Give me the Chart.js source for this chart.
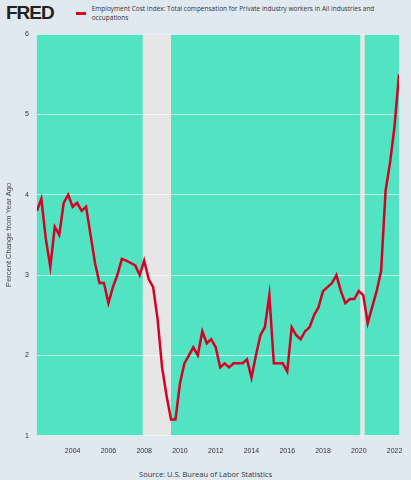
<!DOCTYPE html>
<html><head><meta charset="utf-8">
<script src="https://cdn.jsdelivr.net/npm/chart.js@4"></script>
<style>
body{margin:0;background:#e1e9f0;font-family:"Open Sans",Arial,sans-serif;}
#hdr{position:absolute;left:6px;top:2px;height:22px;display:flex;align-items:center;}
#logo{font-family:"Liberation Sans",Arial,sans-serif;font-weight:bold;font-size:19px;color:#222;letter-spacing:-1px;}
#leg{display:flex;align-items:center;font-size:6.5px;color:#333;margin-left:22px;}
#leg span.sw{display:inline-block;width:10px;height:3px;background:#d50024;margin-right:6px;}
#wrap{position:absolute;left:0;top:22px;width:411px;height:444px;}
#src{position:absolute;bottom:1px;width:411px;text-align:center;font-size:7.5px;color:#333;}
</style></head><body>
<div id="hdr"><span id="logo">FRED</span><div id="leg"><span class="sw"></span>Employment Cost Index: Total compensation for Private industry workers in All industries and occupations</div></div>
<div id="wrap"><canvas id="c"></canvas></div>
<div id="src">Source: U.S. Bureau of Labor Statistics</div>
<script>
const startYear = 2002;
const values = [3.8,3.95,3.45,3.1,3.6,3.5,3.9,4.0,3.85,3.9,3.8,3.85,3.5,3.15,2.9,2.9,2.65,2.85,3.0,3.2,3.18,3.15,3.12,3.0,3.18,2.95,2.85,2.45,1.85,1.5,1.2,1.2,1.65,1.9,2.0,2.1,2.0,2.3,2.15,2.2,2.1,1.85,1.9,1.85,1.9,1.9,1.9,1.95,1.72,2.0,2.25,2.35,2.75,1.9,1.9,1.9,1.8,2.35,2.25,2.2,2.3,2.35,2.5,2.6,2.8,2.85,2.9,3.0,2.8,2.65,2.7,2.7,2.8,2.75,2.4,2.6,2.8,3.05,4.05,4.4,4.85,5.5];
const yTicks = [1,2,3,4,5,6];
const xTickYears = [2004,2006,2008,2010,2012,2014,2016,2018,2020,2022];
const recessions = [[2007.917,2009.5],[2020.083,2020.333]];
const pts = values.map((v,i)=>({x:startYear+i*0.25,y:v}));
const bg = {id:'bg',beforeDraw(ch){const {ctx,chartArea:a,scales:{x}}=ch;ctx.save();ctx.fillStyle='#52e3c2';ctx.fillRect(a.left,a.top,a.right-a.left,a.bottom-a.top);ctx.fillStyle='#e6e6e6';recessions.forEach(r=>{const l=x.getPixelForValue(r[0]),rr=x.getPixelForValue(r[1]);ctx.fillRect(l,a.top,rr-l,a.bottom-a.top);});ctx.restore();}};
new Chart(document.getElementById('c'),{type:'line',
data:{datasets:[{data:pts,borderColor:'#d50024',borderWidth:2.5,pointRadius:0,tension:0}]},
options:{responsive:true,maintainAspectRatio:false,animation:false,
layout:{padding:{top:2,right:12,left:0,bottom:8}},
plugins:{legend:{display:false},tooltip:{enabled:false}},
scales:{
x:{type:'linear',min:startYear,max:startYear+(values.length-1)*0.25,afterBuildTicks:s=>{s.ticks=xTickYears.map(v=>({value:v}));},
ticks:{callback:v=>String(v),font:{size:7},color:'#333',maxRotation:0},grid:{display:false},border:{display:false}},
y:{min:1,max:6,afterBuildTicks:s=>{s.ticks=yTicks.map(v=>({value:v}));},ticks:{font:{size:7},color:'#333',padding:8},
grid:{color:'rgba(255,255,255,0.6)',drawTicks:false},border:{display:false},
title:{display:true,text:'Percent Change from Year Ago',font:{size:7.5},color:'#444'}}}},
plugins:[bg]});
</script></body></html>
